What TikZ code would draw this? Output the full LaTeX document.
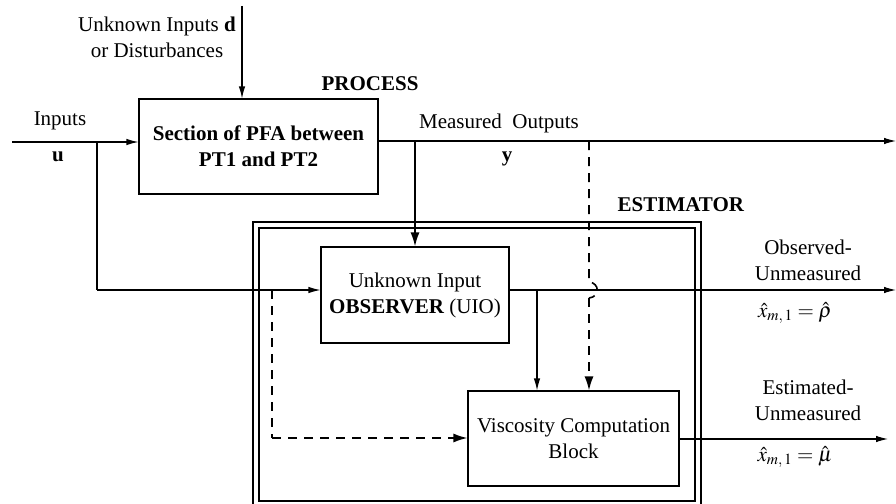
\documentclass[tikz,border=0pt]{standalone}
\usepackage{mathptmx}
\usepackage{fontspec}
\setmainfont{Liberation Serif}
\usetikzlibrary{arrows.meta}
\begin{document}
\begin{tikzpicture}[x=1pt,y=-1pt,
  font=\fontsize{21}{26}\selectfont,
  box/.style={draw,line width=1.1pt,inner sep=2pt,align=center},
  ln/.style={line width=1.1pt},
  thk/.style={line width=1.7pt},
  arr/.style={-{Latex[length=12pt,width=6.5pt]}},
  bigarr/.style={-{Latex[length=14pt,width=9pt]}},
  dsh/.style={line width=1.6pt,dash pattern=on 9pt off 7pt},
  lbl/.style={inner sep=0pt,align=center}]
\useasboundingbox (0,0) rectangle (896,503);
% blocks
\node[box,minimum width=239pt,minimum height=95pt] (proc) at (258.5,146.5)
  {\textbf{Section of PFA between}\\\textbf{PT1 and PT2}};
\node[box,minimum width=188pt,minimum height=96pt] (uio) at (415,295)
  {Unknown Input\\\textbf{OBSERVER} (UIO)};
\node[box,minimum width=211pt,minimum height=95pt] (visc) at (573.5,438.5)
  {Viscosity Computation\\Block};
% estimator frame
\draw[line width=1.4pt] (253,222) rectangle (701,506);
\draw[line width=1.4pt] (259,228) rectangle (695,501);
% coordinates
\coordinate (din) at (242,6);
\coordinate (uin) at (12,142);
\coordinate (ub) at (97,142);
\coordinate (ubd) at (97,290);
\coordinate (dsb) at (272,290);
\coordinate (dsd) at (272,438);
\coordinate (yb) at (415,141);
\coordinate (yend) at (896,141);
\coordinate (yd) at (589,141);
\coordinate (h1) at (589,282);
\coordinate (h2) at (589,298);
\coordinate (ob) at (537,290);
\coordinate (oend) at (896,290);
\coordinate (vend) at (888,439);
% connectors
\draw[ln,arr] (din) -- (proc.north -| din);
\draw[ln,arr] (uin) -- (uin -| proc.west);
\draw[ln] (ub) -- (ubd);
\draw[ln,arr] (ubd) -- (uio.west |- ubd);
\draw[dsh] (dsb) -- (dsd);
\draw[dsh,bigarr] (dsd) -- (visc.west |- dsd);
\draw[ln,arr] (proc.east |- yb) -- (yend);
\draw[thk,bigarr] (yb) -- (uio.north -| yb);
\draw[dsh] (yd) -- (h1) .. controls (600,283) and (600,297) .. (h2);
\draw[dsh,bigarr] (h2) -- (visc.north -| h2);
\draw[ln,arr] (uio.east |- ob) -- (oend);
\draw[ln,arr] (ob) -- (visc.north -| ob);
\draw[ln,arr] (visc.east |- vend) -- (vend);
% labels
\node[lbl] (dl) at (157,37) {Unknown Inputs \textbf{d}\\or Disturbances};
\node[lbl] (pl) at (370,84) {\textbf{PROCESS}};
\node[lbl] (il) at (60,121) {Inputs};
\node[lbl] (ul) at (58,157) {\textbf{u}};
\node[lbl] (ml) at (499,123) {Measured\ \ Outputs};
\node[lbl] (yl) at (507,159) {\textbf{y}};
\node[lbl] (el) at (681,205) {\textbf{ESTIMATOR}};
\node[lbl] (obl) at (808,260) {Observed-\\Unmeasured};
\node[lbl] (rho) at (795,313) {$\hat{x}_{m,\,1}=\hat{\rho}$};
\node[lbl] (esl) at (808,400) {Estimated-\\Unmeasured};
\node[lbl] (mu) at (795,457) {$\hat{x}_{m,\,1}=\hat{\mu}$};
\end{tikzpicture}
\end{document}
